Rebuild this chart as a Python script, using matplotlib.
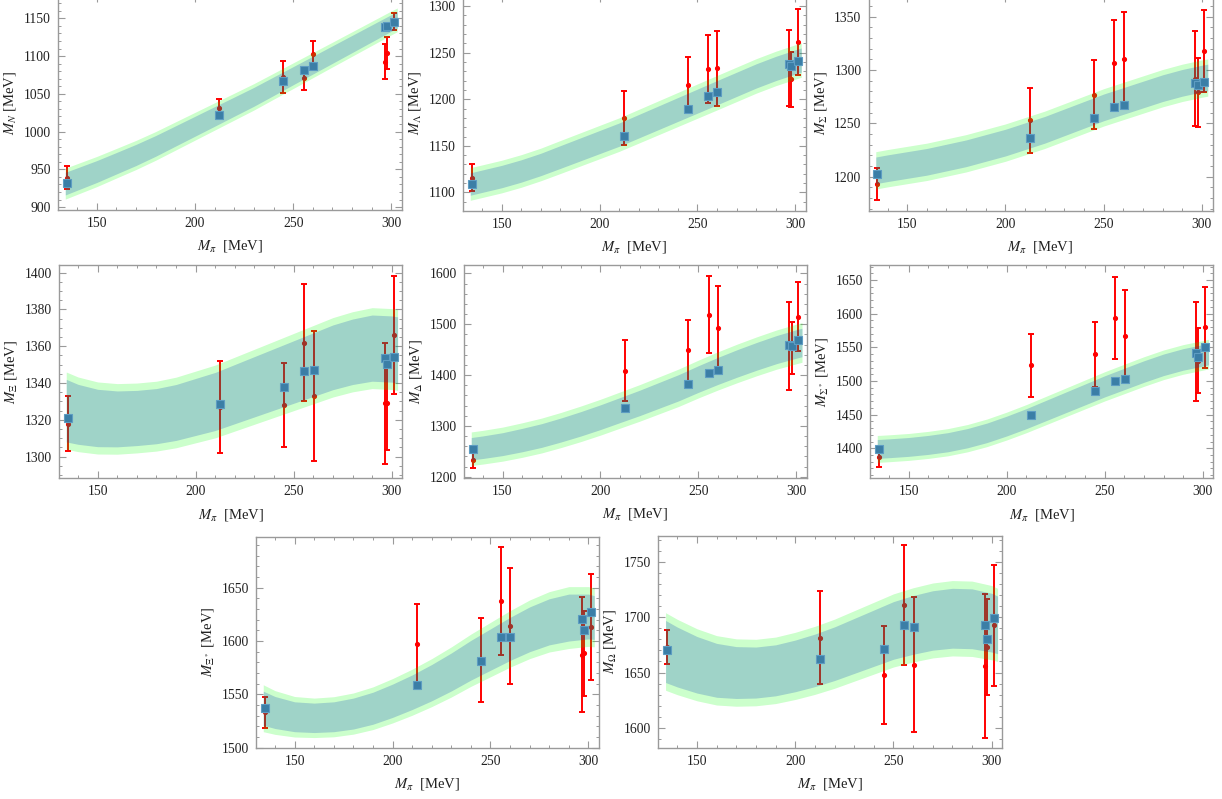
import numpy as np
import matplotlib.pyplot as plt
from matplotlib.ticker import MultipleLocator

plt.rcParams['font.family'] = ['Liberation Serif', 'DejaVu Serif']
plt.rcParams['mathtext.fontset'] = 'stix'

# pion masses of the lattice points (MeV)
mpi = [134.7, 212.5, 245.0, 255.3, 260.2, 296.6, 297.8, 301.2]

# lattice masses (red, with errors) and fitted values (blue squares)
N_lat = [939, 1031, 1072, 1070.5, 1103, 1092.5, 1104.5, 1146]
N_err = [15, 12, 21.5, 15, 17.5, 23.5, 21, 11.5]
N_fit = [931.5, 1022, 1066.5, 1081, 1087.5, 1139, 1140, 1145]

L_lat = [1116, 1179.5, 1215.5, 1232, 1233, 1233.5, 1221.5, 1261.5]
L_err = [15, 29, 29.5, 36.5, 40, 40.5, 29.5, 35.5]
L_fit = [1109.5, 1161, 1189.5, 1203, 1207.5, 1237.5, 1236, 1241.5]

S_lat = [1193, 1253, 1277, 1307, 1310.5, 1292, 1279, 1318]
S_err = [15, 30.5, 32.5, 40, 43.5, 44.5, 32, 38.5]
S_fit = [1203, 1236, 1255.5, 1265, 1267.5, 1287.5, 1286, 1289]

X_lat = [1318, 1327, 1328, 1362, 1333, 1329, 1329, 1366]
X_err = [15, 25, 23, 32, 35.5, 33, 25.5, 32]
X_fit = [1321, 1328.5, 1338, 1346.5, 1347, 1353.5, 1350.5, 1354]

D_lat = [1232.5, 1408.5, 1449, 1519, 1493, 1457, 1453, 1515]
D_err = [14.5, 60, 60, 75.5, 83, 86, 52, 67]
D_fit = [1254, 1335.5, 1381.5, 1404.5, 1410.5, 1460, 1457, 1468]

SS_lat = [1386.5, 1523, 1539.5, 1594, 1567.5, 1544, 1530, 1580]
SS_err = [15, 46.5, 48, 61, 67, 73.5, 48, 60]
SS_fit = [1399.5, 1449, 1484.5, 1500, 1503, 1542, 1535, 1551]

XS_lat = [1533, 1597, 1582, 1637.5, 1614, 1587, 1588.5, 1613]
XS_err = [14.5, 38, 39.5, 50.5, 54, 54, 40, 50]
XS_fit = [1537.5, 1559, 1581, 1603.5, 1603.5, 1620.5, 1610, 1627.5]

O_lat = [1673, 1681.5, 1648, 1711, 1657, 1656, 1673, 1692.5]
O_err = [15, 42, 44, 54, 61, 65, 43.5, 54.5]
O_fit = [1670, 1662, 1671.5, 1692.5, 1691, 1692.5, 1680.5, 1699]

# bands: centre, inner and outer half widths
nodes = [134, 140, 150, 160, 170, 180, 190, 200, 210, 220, 230, 240, 250, 260, 270, 280, 290, 300, 303]

N_c = [931, 937, 947, 958, 969, 981, 994, 1007, 1020, 1033, 1046, 1060, 1074, 1088, 1102, 1116, 1130, 1144, 1148]
N_in = [15, 14.8, 14.5, 14.2, 14, 13.7, 13.4, 13.2, 13, 12.7, 12.5, 12.3, 12, 11.8, 11.6, 11.4, 11.2, 11, 11]
N_out = [20.5, 20.3, 20, 19.6, 19.3, 19, 18.7, 18.4, 18.1, 17.8, 17.5, 17.2, 17, 16.7, 16.4, 16.2, 16, 15.8, 15.7]

L_c = [1109, 1112, 1117, 1123, 1130, 1138, 1146, 1154, 1162, 1171, 1180, 1189, 1198, 1207, 1216, 1225, 1233, 1240, 1242]
L_in = [12, 12, 12, 12, 12, 12.2, 12.3, 12.4, 12.5, 12.6, 12.7, 12.8, 12.9, 13, 13, 13, 13, 13, 13]
L_out = [17.5, 17.5, 17.5, 17.5, 17.5, 17.7, 17.8, 17.9, 18, 18.1, 18.2, 18.3, 18.4, 18.5, 18.5, 18.5, 18.5, 18.5, 18.5]

S_c = [1206, 1208, 1211, 1214, 1218, 1222, 1227, 1232, 1238, 1244, 1251, 1258, 1265, 1271, 1277, 1283, 1288, 1292, 1293]
S_in = [12.5, 12.5, 12.5, 12.5, 12.5, 12.5, 12.5, 12.5, 12.5, 12.5, 12.5, 12.5, 12.5, 12.5, 12.5, 12.5, 12.5, 12.5, 12.5]
S_out = [17.5, 17.5, 17.5, 17.5, 17.5, 17.5, 17.5, 17.5, 17.5, 17.5, 17.5, 17.5, 17.5, 17.5, 17.5, 17.5, 17.5, 17.5, 17.5]

X_c = [1325, 1323, 1321, 1320.5, 1321, 1322, 1324, 1327, 1330, 1334, 1338, 1342, 1346, 1350, 1354, 1357, 1359, 1358.5, 1358]
X_in = [17, 16.3, 15.6, 15.2, 15, 15, 15.2, 15.5, 15.8, 16.1, 16.4, 16.7, 17, 17.3, 17.6, 17.8, 18, 18, 18]
X_out = [21, 20.3, 19.6, 19.2, 19, 19, 19.2, 19.5, 19.8, 20.1, 20.4, 20.7, 21, 21.3, 21.6, 21.8, 22, 22, 22]

D_c = [1255, 1258, 1264, 1272, 1281, 1292, 1304, 1317, 1331, 1345, 1360, 1375, 1392, 1408, 1423, 1437, 1450, 1461, 1464]
D_in = [22, 22.2, 22.5, 23, 23.3, 23.6, 24, 24.3, 24.6, 25, 25.4, 25.8, 26.2, 26.6, 27, 27.3, 27.6, 28, 28]
D_out = [33, 33.2, 33.5, 34, 34.3, 34.6, 35, 35.3, 35.6, 36, 36.4, 36.8, 37.2, 37.6, 38, 38.3, 38.6, 39, 39]

SS_c = [1399, 1400, 1402, 1405, 1409, 1415, 1423, 1433, 1444, 1456, 1468, 1480, 1492, 1503, 1514, 1524, 1532, 1538, 1540]
SS_in = [14, 14, 14, 14.1, 14.2, 14.3, 14.5, 14.7, 14.9, 15.1, 15.3, 15.5, 15.7, 15.9, 16, 16, 16, 16, 16]
SS_out = [20, 20, 20, 20.1, 20.2, 20.3, 20.5, 20.7, 20.9, 21.1, 21.3, 21.5, 21.7, 21.9, 22, 22, 22, 22, 22]

XS_c = [1537, 1533, 1529, 1528, 1529, 1532, 1537, 1544, 1552, 1561, 1571, 1582, 1592, 1602, 1611, 1618, 1622, 1623, 1622]
XS_in = [16, 15, 14, 13.8, 14, 14.5, 15, 15.6, 16.2, 17, 17.8, 18.6, 19.4, 20.2, 21, 21.6, 22, 21, 20.5]
XS_out = [22, 20.5, 19, 18.5, 18.8, 19.3, 20, 20.8, 21.6, 22.5, 23.5, 24.5, 25.5, 26.5, 27.5, 28.3, 29, 28, 27.5]

O_c = [1669, 1664, 1657, 1652, 1650, 1650, 1652, 1656, 1661, 1667, 1674, 1681, 1688, 1693, 1697, 1699, 1698.5, 1695, 1693]
O_in = [28, 27, 25.5, 24.3, 23.4, 23, 23, 23.3, 23.7, 24.2, 24.8, 25.4, 26, 26.5, 26.8, 27, 27, 26.5, 26]
O_out = [35, 34, 32.5, 31.3, 30.4, 30, 30, 30.3, 30.7, 31.2, 31.8, 32.4, 33, 33.5, 33.8, 34, 34, 33.5, 33]

labels = [r'$M_N$', r'$M_\Lambda$', r'$M_\Sigma$', r'$M_\Xi$', r'$M_\Delta$',
          r'$M_{\Sigma^*}$', r'$M_{\Xi^*}$', r'$M_\Omega$']

W, H = 1222, 799
fig = plt.figure(figsize=(W / 100, H / 100), dpi=100)


def box(l, r, t, b):
    return [l / W, 1 - b / H, (r - l) / W, (b - t) / H]


# pixel boxes of the 8 frames (top row runs off the top of the picture)
boxes = [box(58, 402, -5, 210), box(463, 806, -5, 210.7), box(868.5, 1212.5, -5, 210.7),
         box(59, 402.3, 265, 478.3), box(464, 806.7, 265, 478), box(870, 1213.3, 265, 478.3),
         box(256, 599, 536.7, 747.7), box(658.3, 1002.3, 536, 747.7)]
ylims = [(896.1, 1180.9), (1080.4, 1311.8), (1168.2, 1370.3), (1288.2, 1404.2),
         (1197.4, 1616.4), (1355.4, 1672.3), (1500, 1697.8), (1582.2, 1773.2)]
ysteps = [(50, 10), (50, 10), (50, 10), (20, 5), (100, 20), (50, 10), (50, 10), (50, 10)]

lat = [N_lat, L_lat, S_lat, X_lat, D_lat, SS_lat, XS_lat, O_lat]
err = [N_err, L_err, S_err, X_err, D_err, SS_err, XS_err, O_err]
fit = [N_fit, L_fit, S_fit, X_fit, D_fit, SS_fit, XS_fit, O_fit]
cen = [N_c, L_c, S_c, X_c, D_c, SS_c, XS_c, O_c]
inn = [N_in, L_in, S_in, X_in, D_in, SS_in, XS_in, O_in]
out = [N_out, L_out, S_out, X_out, D_out, SS_out, XS_out, O_out]

frame = '#9a9a9a'
for i in range(8):
    ax = fig.add_axes(boxes[i])
    c = np.array(cen[i])
    ax.errorbar(mpi, lat[i], yerr=err[i], fmt='o', color='red', ms=2.7, lw=1.4,
                capsize=2.2, capthick=1.4, zorder=2)
    ax.fill_between(nodes, c - np.array(out[i]), c + np.array(out[i]),
                    color=(0, 1, 0), alpha=0.2, lw=0, zorder=3)
    ax.fill_between(nodes, c - np.array(inn[i]), c + np.array(inn[i]),
                    color=(0, 0.22, 0.73), alpha=0.22, lw=0, zorder=3)
    ax.plot(mpi, fit[i], 's', color='#3b7ea6', mec='#5d9cc2', mew=0.8, ms=5.4, zorder=4)

    ax.set_xlim(130.3, 305.4)
    ax.set_ylim(*ylims[i])
    ax.xaxis.set_major_locator(MultipleLocator(50))
    ax.xaxis.set_minor_locator(MultipleLocator(10))
    ax.yaxis.set_major_locator(MultipleLocator(ysteps[i][0]))
    ax.yaxis.set_minor_locator(MultipleLocator(ysteps[i][1]))
    ax.tick_params(which='both', direction='in', top=True, right=True, color=frame,
                   labelsize=9.8, labelcolor='#222222', pad=5)
    ax.tick_params(which='major', length=5, width=0.8)
    ax.tick_params(which='minor', length=2.5, width=0.7)
    for s in ax.spines.values():
        s.set_color(frame)
        s.set_linewidth(1.0)
    ax.set_xlabel(r'$M_\pi$  [MeV]', fontsize=10.5, color='#222222', labelpad=6)
    ax.set_ylabel(labels[i] + ' [MeV]', fontsize=10.5, color='#222222', labelpad=4)

fig.savefig('out.png', dpi=100)
